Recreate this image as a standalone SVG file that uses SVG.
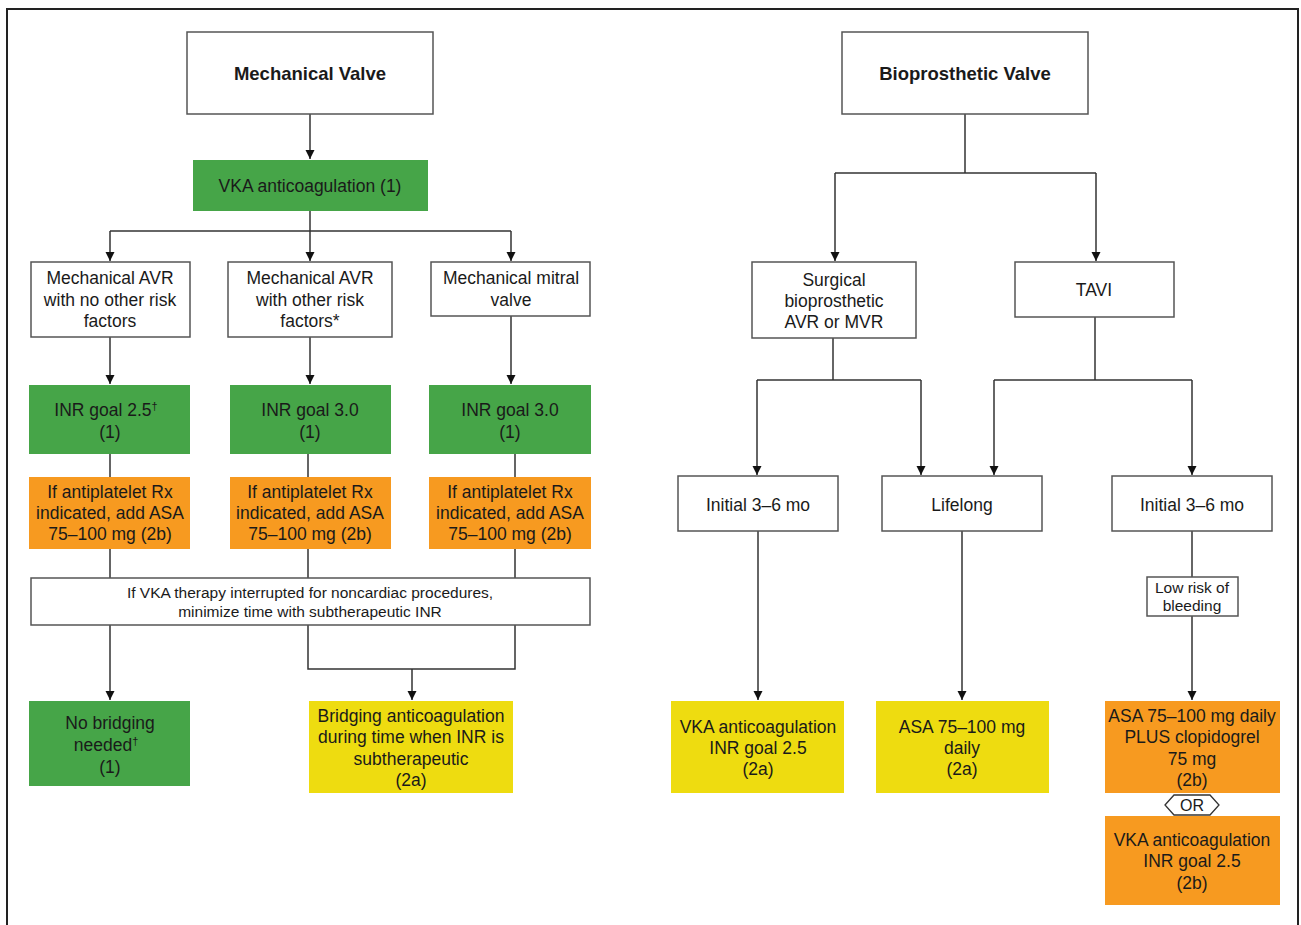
<svg xmlns="http://www.w3.org/2000/svg" width="1301" height="925" viewBox="0 0 1301 925">
<style>
.t{font-family:"Liberation Sans",Arial,sans-serif;font-size:17.5px;fill:#1a1a1a;text-anchor:middle}
.s{font-size:15.5px}
.b{font-weight:bold;font-size:18.5px}
.w{fill:#fff;stroke:#555;stroke-width:1.5}
.g{fill:#46a548}
.o{fill:#f79a20}
.y{fill:#eedc10}
.c{fill:none;stroke:#333;stroke-width:1.5}
.sup{font-size:11px}
</style>
<defs>
<marker id="ah" viewBox="0 0 10 10" refX="10" refY="5" markerWidth="9" markerHeight="11" markerUnits="userSpaceOnUse" orient="auto">
<path d="M0,0 L10,5 L0,10 z" fill="#111"/>
</marker>
</defs>
<rect x="0" y="0" width="1301" height="925" fill="#fff"/>
<path d="M7,925 V9 H1298 V925" fill="none" stroke="#222" stroke-width="2"/>

<g id="connectors">
<path class="c" d="M310,114 V159" marker-end="url(#ah)"/>
<path class="c" d="M310,211 V231"/>
<path class="c" d="M110,231 H511"/>
<path class="c" d="M110,231 V261" marker-end="url(#ah)"/>
<path class="c" d="M310,231 V261" marker-end="url(#ah)"/>
<path class="c" d="M511,231 V261" marker-end="url(#ah)"/>
<path class="c" d="M110,337 V384" marker-end="url(#ah)"/>
<path class="c" d="M310,337 V384" marker-end="url(#ah)"/>
<path class="c" d="M511,316 V384" marker-end="url(#ah)"/>
<path class="c" d="M110,454 V477 M308,454 V477 M515,454 V477"/>
<path class="c" d="M110,549 V578 M308,549 V578 M515,549 V578"/>
<path class="c" d="M110,625 V700" marker-end="url(#ah)"/>
<path class="c" d="M308,625 V669 H515 V625"/>
<path class="c" d="M412,669 V700" marker-end="url(#ah)"/>

<path class="c" d="M965,114 V173"/>
<path class="c" d="M835,173 H1096"/>
<path class="c" d="M835,173 V261" marker-end="url(#ah)"/>
<path class="c" d="M1096,173 V261" marker-end="url(#ah)"/>
<path class="c" d="M833,338 V380"/>
<path class="c" d="M757,380 H921"/>
<path class="c" d="M757,380 V475" marker-end="url(#ah)"/>
<path class="c" d="M921,380 V475" marker-end="url(#ah)"/>
<path class="c" d="M1095,317 V380"/>
<path class="c" d="M994,380 H1192"/>
<path class="c" d="M994,380 V475" marker-end="url(#ah)"/>
<path class="c" d="M1192,380 V475" marker-end="url(#ah)"/>
<path class="c" d="M758,531 V700" marker-end="url(#ah)"/>
<path class="c" d="M962,531 V700" marker-end="url(#ah)"/>
<path class="c" d="M1192,531 V577"/>
<path class="c" d="M1192,616 V700" marker-end="url(#ah)"/>
</g>

<g id="mech-valve"><rect class="w" x="187" y="32" width="246" height="82"/><text class="t b" x="310" y="80">Mechanical Valve</text></g>
<g id="vka-mech"><rect class="g" x="193" y="160" width="235" height="51"/><text class="t" x="310" y="192">VKA anticoagulation (1)</text></g>

<g id="avr-norisk"><rect class="w" x="31" y="262" width="159" height="75"/><text class="t"><tspan x="110" y="284">Mechanical AVR</tspan><tspan x="110" y="306">with no other risk</tspan><tspan x="110" y="327">factors</tspan></text></g>
<g id="avr-risk"><rect class="w" x="228" y="262" width="164" height="75"/><text class="t"><tspan x="310" y="284">Mechanical AVR</tspan><tspan x="310" y="306">with other risk</tspan><tspan x="310" y="327">factors*</tspan></text></g>
<g id="mitral"><rect class="w" x="431" y="262" width="159" height="54"/><text class="t"><tspan x="511" y="284">Mechanical mitral</tspan><tspan x="511" y="306">valve</tspan></text></g>

<g id="inr1"><rect class="g" x="29" y="385" width="161" height="69"/><text class="t"><tspan x="106" y="416">INR goal 2.5</tspan><tspan class="sup" dy="-6">†</tspan><tspan x="110" y="438">(1)</tspan></text></g>
<g id="inr2"><rect class="g" x="230" y="385" width="161" height="69"/><text class="t"><tspan x="310" y="416">INR goal 3.0</tspan><tspan x="310" y="438">(1)</tspan></text></g>
<g id="inr3"><rect class="g" x="429" y="385" width="162" height="69"/><text class="t"><tspan x="510" y="416">INR goal 3.0</tspan><tspan x="510" y="438">(1)</tspan></text></g>

<g id="asa1"><rect class="o" x="29" y="477" width="161" height="72"/><text class="t"><tspan x="110" y="498">If antiplatelet Rx</tspan><tspan x="110" y="519">indicated, add ASA</tspan><tspan x="110" y="540">75–100 mg (2b)</tspan></text></g>
<g id="asa2"><rect class="o" x="230" y="477" width="161" height="72"/><text class="t"><tspan x="310" y="498">If antiplatelet Rx</tspan><tspan x="310" y="519">indicated, add ASA</tspan><tspan x="310" y="540">75–100 mg (2b)</tspan></text></g>
<g id="asa3"><rect class="o" x="429" y="477" width="162" height="72"/><text class="t"><tspan x="510" y="498">If antiplatelet Rx</tspan><tspan x="510" y="519">indicated, add ASA</tspan><tspan x="510" y="540">75–100 mg (2b)</tspan></text></g>

<g id="interrupt"><rect class="w" x="31" y="578" width="559" height="47"/><text class="t s"><tspan x="310" y="598">If VKA therapy interrupted for noncardiac procedures,</tspan><tspan x="310" y="617">minimize time with subtherapeutic INR</tspan></text></g>

<g id="no-bridging"><rect class="g" x="29" y="701" width="161" height="85"/><text class="t"><tspan x="110" y="729">No bridging</tspan><tspan x="106" y="751">needed</tspan><tspan class="sup" dy="-6">†</tspan><tspan x="110" y="773">(1)</tspan></text></g>
<g id="bridging"><rect class="y" x="309" y="701" width="204" height="92"/><text class="t"><tspan x="411" y="722">Bridging anticoagulation</tspan><tspan x="411" y="743">during time when INR is</tspan><tspan x="411" y="765">subtherapeutic</tspan><tspan x="411" y="786">(2a)</tspan></text></g>

<g id="bio-valve"><rect class="w" x="842" y="32" width="246" height="82"/><text class="t b" x="965" y="80">Bioprosthetic Valve</text></g>
<g id="surgical"><rect class="w" x="752" y="262" width="164" height="76"/><text class="t"><tspan x="834" y="286">Surgical</tspan><tspan x="834" y="307">bioprosthetic</tspan><tspan x="834" y="328">AVR or MVR</tspan></text></g>
<g id="tavi"><rect class="w" x="1015" y="262" width="159" height="55"/><text class="t" x="1094" y="296">TAVI</text></g>

<g id="initial-surg"><rect class="w" x="678" y="476" width="160" height="55"/><text class="t" x="758" y="511">Initial 3–6 mo</text></g>
<g id="lifelong"><rect class="w" x="882" y="476" width="160" height="55"/><text class="t" x="962" y="511">Lifelong</text></g>
<g id="initial-tavi"><rect class="w" x="1112" y="476" width="160" height="55"/><text class="t" x="1192" y="511">Initial 3–6 mo</text></g>

<g id="low-risk"><rect class="w" x="1147" y="577" width="91" height="39"/><text class="t s"><tspan x="1192" y="593">Low risk of</tspan><tspan x="1192" y="611">bleeding</tspan></text></g>

<g id="vka-bio"><rect class="y" x="671" y="701" width="173" height="92"/><text class="t"><tspan x="758" y="733">VKA anticoagulation</tspan><tspan x="758" y="754">INR goal 2.5</tspan><tspan x="758" y="775">(2a)</tspan></text></g>
<g id="asa-bio"><rect class="y" x="876" y="701" width="173" height="92"/><text class="t"><tspan x="962" y="733">ASA 75–100 mg</tspan><tspan x="962" y="754">daily</tspan><tspan x="962" y="775">(2a)</tspan></text></g>
<g id="dapt"><rect class="o" x="1105" y="701" width="175" height="92"/><text class="t"><tspan x="1192" y="722">ASA 75–100 mg daily</tspan><tspan x="1192" y="743">PLUS clopidogrel</tspan><tspan x="1192" y="765">75 mg</tspan><tspan x="1192" y="786">(2b)</tspan></text></g>
<g id="or"><polygon points="1165,805 1174,795 1210,795 1219,805 1210,815 1174,815" fill="#fff" stroke="#333" stroke-width="1.3"/><text class="t" style="font-size:16px" x="1192" y="811">OR</text></g>
<g id="vka-tavi"><rect class="o" x="1105" y="816" width="175" height="89"/><text class="t"><tspan x="1192" y="846">VKA anticoagulation</tspan><tspan x="1192" y="867">INR goal 2.5</tspan><tspan x="1192" y="889">(2b)</tspan></text></g>
</svg>
